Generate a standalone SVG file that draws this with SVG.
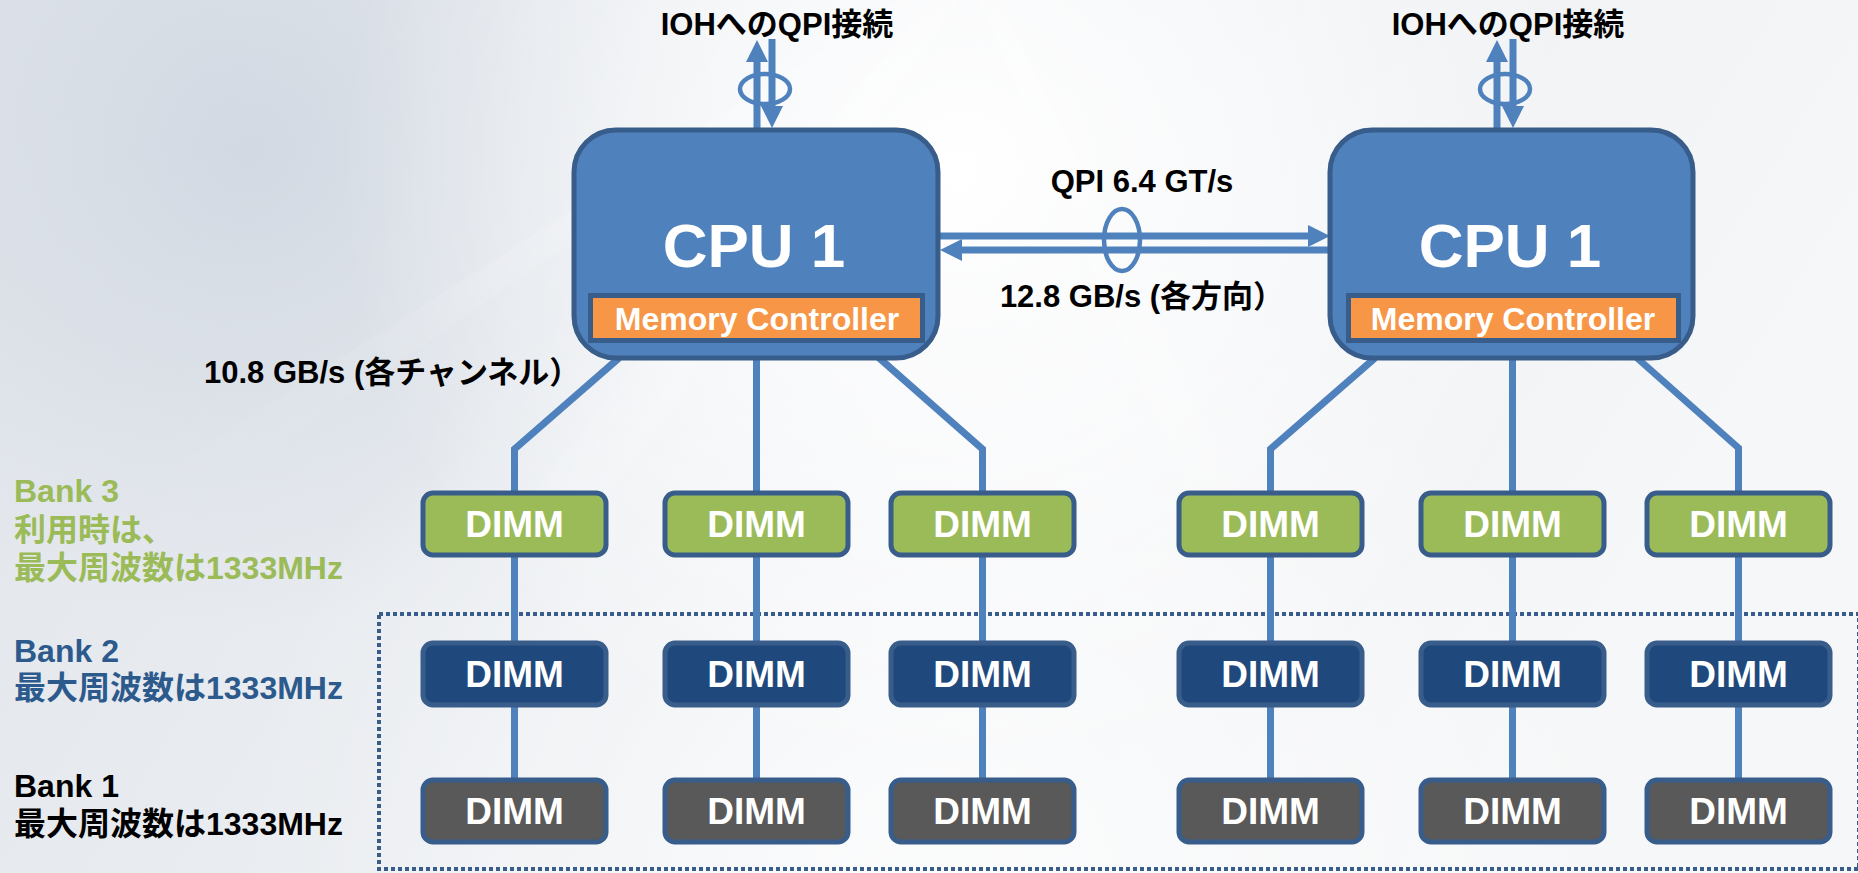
<svg xmlns="http://www.w3.org/2000/svg" width="1858" height="873" viewBox="0 0 1858 873">
<defs>
<linearGradient id="bg" x1="0" y1="0" x2="1" y2="0.3">
<stop offset="0" stop-color="#E1E5EB"/>
<stop offset="0.45" stop-color="#EAEDF1"/>
<stop offset="1" stop-color="#F6F7F8"/>
</linearGradient>
<radialGradient id="glow" cx="960" cy="170" r="620" gradientUnits="userSpaceOnUse">
<stop offset="0" stop-color="#FFFFFF" stop-opacity="1"/>
<stop offset="0.5" stop-color="#FFFFFF" stop-opacity="0.55"/>
<stop offset="1" stop-color="#FFFFFF" stop-opacity="0"/>
</radialGradient>
<radialGradient id="cloud" cx="250" cy="150" r="480" gradientUnits="userSpaceOnUse">
<stop offset="0" stop-color="#CBD3DE" stop-opacity="0.7"/>
<stop offset="1" stop-color="#CBD3DE" stop-opacity="0"/>
</radialGradient>
<radialGradient id="bottom" cx="930" cy="900" r="700" gradientUnits="userSpaceOnUse">
<stop offset="0" stop-color="#FFFFFF" stop-opacity="0.8"/>
<stop offset="1" stop-color="#FFFFFF" stop-opacity="0"/>
</radialGradient>
<linearGradient id="ray" x1="0" y1="0" x2="0" y2="1">
<stop offset="0" stop-color="#FFFFFF" stop-opacity="0.7"/>
<stop offset="1" stop-color="#FFFFFF" stop-opacity="0"/>
</linearGradient>
<marker id="ah" viewBox="0 0 22 22" refX="2" refY="11" markerWidth="22" markerHeight="22" markerUnits="userSpaceOnUse" orient="auto">
<path d="M0,0 L22,11 L0,22 z" fill="#4F81BD"/>
</marker>
<style>
.cpu{fill:#4F81BD;stroke:#385D8A;stroke-width:5}
.mc{fill:#F79646;stroke:#385D8A;stroke-width:5}
.dimm{stroke:#385D8A;stroke-width:5}
.b3{fill:#9BBB59}
.b2{fill:#1F497D}
.b1{fill:#595959}
.wt{fill:#FFFFFF;font-family:"Liberation Sans","Noto Sans CJK JP",sans-serif;font-weight:bold;text-anchor:middle}
.cput{font-size:62px}
.mct{font-size:32px}
.dt{font-size:37px}
.lbl{font-family:"Liberation Sans","Noto Sans CJK JP",sans-serif;font-weight:bold;font-size:31px}
.bk{font-size:32px}
.k{fill:#000000}
.g{fill:#9BBB59}
.bl{fill:#2C5A8C}
.c{text-anchor:middle}
.wire{fill:none;stroke:#4F81BD;stroke-width:7;stroke-linejoin:miter}
.arr{fill:none;stroke:#4F81BD;stroke-width:7;marker-end:url(#ah)}
.ring{fill:none;stroke:#4F81BD;stroke-width:4.5}
</style>
</defs>

<g id="background">
<rect x="0" y="0" width="1858" height="873" fill="url(#bg)"/>
<rect x="0" y="0" width="1858" height="873" fill="url(#cloud)"/>
<rect x="0" y="0" width="1858" height="873" fill="url(#bottom)"/>
<rect x="0" y="0" width="1858" height="873" fill="url(#glow)"/>
<polygon points="930,0 960,0 520,620 430,620" fill="url(#ray)" opacity="0.5"/>
<polygon points="980,0 1000,0 1300,620 1240,620" fill="url(#ray)" opacity="0.5"/>
<polygon points="900,0 920,0 200,500 120,500" fill="url(#ray)" opacity="0.35"/>
</g>

<g id="bank-group">
<rect x="379" y="614" width="1480" height="255" fill="none" stroke="#385D8A" stroke-width="4" stroke-dasharray="4 3"/>
</g>

<g id="connectors">
<polyline class="wire" points="619,358 514.5,449 514.5,782"/>
<polyline class="wire" points="756.5,356 756.5,782"/>
<polyline class="wire" points="878,357 982.5,449 982.5,782"/>
<polyline class="wire" points="1375,358 1270.5,449 1270.5,782"/>
<polyline class="wire" points="1512.5,356 1512.5,782"/>
<polyline class="wire" points="1636,357 1738.5,448 1738.5,782"/>
<line class="arr" x1="757" y1="129" x2="757" y2="60"/>
<line class="arr" x1="772" y1="39" x2="772" y2="108"/>
<ellipse class="ring" cx="765" cy="89" rx="25" ry="15"/>
<line class="arr" x1="1497" y1="129" x2="1497" y2="60"/>
<line class="arr" x1="1513" y1="39" x2="1513" y2="108"/>
<ellipse class="ring" cx="1505" cy="89" rx="25" ry="15"/>
<line class="arr" x1="936" y1="236" x2="1310" y2="236"/>
<line class="arr" x1="1332" y1="250" x2="960" y2="250"/>
<ellipse class="ring" cx="1122" cy="240" rx="18" ry="31"/>
</g>

<g id="cpu-left">
<rect class="cpu" x="574" y="130" width="364" height="228" rx="42"/>
<text class="wt cput" x="754" y="267">CPU 1</text>
<rect class="mc" x="590.5" y="295.5" width="332" height="45"/>
<text class="wt mct" x="757" y="330">Memory Controller</text>
</g>

<g id="cpu-right">
<rect class="cpu" x="1330" y="130" width="363" height="228" rx="42"/>
<text class="wt cput" x="1510" y="267">CPU 1</text>
<rect class="mc" x="1348.5" y="295.5" width="330" height="45"/>
<text class="wt mct" x="1513" y="330">Memory Controller</text>
</g>

<g id="labels">
<text class="lbl k c" x="777" y="35">IOHへのQPI接続</text>
<text class="lbl k c" x="1508" y="35">IOHへのQPI接続</text>
<text class="lbl k c" x="1142" y="192">QPI 6.4 GT/s</text>
<text class="lbl k c" x="1142" y="307">12.8 GB/s (各方向）</text>
<text class="lbl k" x="204" y="383">10.8 GB/s (各チャンネル）</text>
<text class="lbl bk g" x="14" y="502">Bank 3</text>
<text class="lbl bk g" x="14" y="541">利用時は、</text>
<text class="lbl bk g" x="14" y="579">最大周波数は1333MHz</text>
<text class="lbl bk bl" x="14" y="662">Bank 2</text>
<text class="lbl bk bl" x="14" y="699">最大周波数は1333MHz</text>
<text class="lbl bk k" x="14" y="797">Bank 1</text>
<text class="lbl bk k" x="14" y="835">最大周波数は1333MHz</text>
</g>

<g id="dimm-b3-1"><rect class="dimm b3" x="423" y="493" width="183" height="62" rx="10"/><text class="wt dt" x="514.5" y="537">DIMM</text></g>
<g id="dimm-b3-2"><rect class="dimm b3" x="665" y="493" width="183" height="62" rx="10"/><text class="wt dt" x="756.5" y="537">DIMM</text></g>
<g id="dimm-b3-3"><rect class="dimm b3" x="891" y="493" width="183" height="62" rx="10"/><text class="wt dt" x="982.5" y="537">DIMM</text></g>
<g id="dimm-b3-4"><rect class="dimm b3" x="1179" y="493" width="183" height="62" rx="10"/><text class="wt dt" x="1270.5" y="537">DIMM</text></g>
<g id="dimm-b3-5"><rect class="dimm b3" x="1421" y="493" width="183" height="62" rx="10"/><text class="wt dt" x="1512.5" y="537">DIMM</text></g>
<g id="dimm-b3-6"><rect class="dimm b3" x="1647" y="493" width="183" height="62" rx="10"/><text class="wt dt" x="1738.5" y="537">DIMM</text></g>

<g id="dimm-b2-1"><rect class="dimm b2" x="423" y="643" width="183" height="62" rx="10"/><text class="wt dt" x="514.5" y="687">DIMM</text></g>
<g id="dimm-b2-2"><rect class="dimm b2" x="665" y="643" width="183" height="62" rx="10"/><text class="wt dt" x="756.5" y="687">DIMM</text></g>
<g id="dimm-b2-3"><rect class="dimm b2" x="891" y="643" width="183" height="62" rx="10"/><text class="wt dt" x="982.5" y="687">DIMM</text></g>
<g id="dimm-b2-4"><rect class="dimm b2" x="1179" y="643" width="183" height="62" rx="10"/><text class="wt dt" x="1270.5" y="687">DIMM</text></g>
<g id="dimm-b2-5"><rect class="dimm b2" x="1421" y="643" width="183" height="62" rx="10"/><text class="wt dt" x="1512.5" y="687">DIMM</text></g>
<g id="dimm-b2-6"><rect class="dimm b2" x="1647" y="643" width="183" height="62" rx="10"/><text class="wt dt" x="1738.5" y="687">DIMM</text></g>

<g id="dimm-b1-1"><rect class="dimm b1" x="423" y="780" width="183" height="62" rx="10"/><text class="wt dt" x="514.5" y="824">DIMM</text></g>
<g id="dimm-b1-2"><rect class="dimm b1" x="665" y="780" width="183" height="62" rx="10"/><text class="wt dt" x="756.5" y="824">DIMM</text></g>
<g id="dimm-b1-3"><rect class="dimm b1" x="891" y="780" width="183" height="62" rx="10"/><text class="wt dt" x="982.5" y="824">DIMM</text></g>
<g id="dimm-b1-4"><rect class="dimm b1" x="1179" y="780" width="183" height="62" rx="10"/><text class="wt dt" x="1270.5" y="824">DIMM</text></g>
<g id="dimm-b1-5"><rect class="dimm b1" x="1421" y="780" width="183" height="62" rx="10"/><text class="wt dt" x="1512.5" y="824">DIMM</text></g>
<g id="dimm-b1-6"><rect class="dimm b1" x="1647" y="780" width="183" height="62" rx="10"/><text class="wt dt" x="1738.5" y="824">DIMM</text></g>
</svg>
